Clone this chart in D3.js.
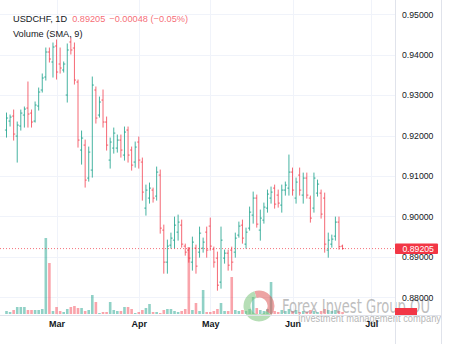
<!DOCTYPE html>
<html>
<head>
<meta charset="utf-8">
<script src="https://cdn.jsdelivr.net/npm/d3@7/dist/d3.min.js"></script>
<style>
  html, body { margin: 0; padding: 0; background: #fff; }
  svg { display: block; font-family: "Liberation Sans", Arial, sans-serif; }
</style>
</head>
<body>
<svg id="chart" width="450" height="344"></svg>
<script>
// USDCHF daily OHLC, 9 Feb – 21 Jun 2023
const opens  = [0.92137,0.92359,0.92483,0.91988,0.92236,0.92508,0.92681,0.92557,0.92359,0.92731,
                0.93127,0.93448,0.94067,0.93820,0.94216,0.93770,0.93622,0.93003,0.94315,0.94166,
                0.93325,0.91642,0.91765,0.90949,0.91147,0.93127,0.92508,0.92879,0.92335,0.91394,
                0.91691,0.91691,0.91889,0.91518,0.92137,0.91642,0.91345,0.91840,0.91345,0.90206,
                0.90454,0.90652,0.90503,0.91023,0.89662,0.88870,0.89290,0.89414,0.89612,0.89785,
                0.89266,0.89167,0.88870,0.89216,0.89117,0.89216,0.89612,0.89761,0.89191,0.88969,
                0.88375,0.88969,0.89092,0.89167,0.89117,0.89538,0.89785,0.89315,0.89711,0.90033,
                0.90454,0.89662,0.89909,0.90206,0.90454,0.90701,0.90528,0.90280,0.90652,0.90701,
                0.91097,0.90454,0.91023,0.90528,0.90949,0.90454,0.90206,0.90577,0.90577,0.90454,
                0.89167,0.89315,0.89513,0.89860,0.89266];
const highs  = [0.92557,0.92508,0.92632,0.92335,0.92632,0.92706,0.93325,0.92632,0.92830,0.93176,
                0.93523,0.94166,0.94166,0.94290,0.94364,0.94166,0.93820,0.94265,0.94414,0.94290,
                0.93374,0.92112,0.91889,0.91716,0.93448,0.93201,0.92953,0.93127,0.92458,0.91939,
                0.92186,0.92013,0.92013,0.92211,0.92211,0.91716,0.91840,0.91963,0.91444,0.90775,
                0.90825,0.90701,0.91221,0.91147,0.89785,0.89414,0.89587,0.89983,0.90033,0.89909,
                0.89315,0.89216,0.89488,0.89290,0.89736,0.89464,0.89736,0.89959,0.89241,0.89117,
                0.89736,0.89167,0.89167,0.89241,0.89587,0.89860,0.89909,0.89711,0.90231,0.90602,
                0.90528,0.90157,0.90330,0.90652,0.90726,0.90775,0.90652,0.90775,0.90850,0.91518,
                0.91196,0.90949,0.91196,0.91072,0.91072,0.90503,0.91072,0.90899,0.90652,0.90577,
                0.89587,0.89538,0.89983,0.89983,0.89290];
const lows   = [0.91963,0.92236,0.91889,0.91345,0.92137,0.92211,0.92211,0.92211,0.92335,0.92632,
                0.93077,0.93374,0.93820,0.93448,0.93399,0.93547,0.93572,0.92830,0.94018,0.93275,
                0.91716,0.91295,0.90726,0.90874,0.90973,0.92310,0.92458,0.92211,0.91642,0.91196,
                0.91567,0.91592,0.91468,0.91394,0.91345,0.91147,0.91221,0.91196,0.90404,0.90033,
                0.90330,0.90355,0.90404,0.89587,0.88597,0.88597,0.89216,0.89216,0.89414,0.89241,
                0.89043,0.88870,0.88672,0.88597,0.88993,0.89117,0.88993,0.89167,0.88746,0.88177,
                0.88226,0.88845,0.88672,0.88672,0.88993,0.89488,0.89340,0.89216,0.89662,0.89835,
                0.89736,0.89414,0.89835,0.90107,0.90330,0.90206,0.90231,0.90107,0.90528,0.90528,
                0.90528,0.90330,0.90528,0.90330,0.90454,0.89860,0.90107,0.90503,0.89959,0.89117,
                0.88993,0.89241,0.89414,0.89191,0.89191];
const closes = [0.92434,0.92458,0.92038,0.92260,0.92557,0.92656,0.92533,0.92335,0.92755,0.93077,
                0.93424,0.94067,0.93894,0.94191,0.93572,0.93671,0.93770,0.94117,0.94117,0.93374,
                0.91889,0.91939,0.90899,0.91592,0.93250,0.92434,0.92830,0.92335,0.91765,0.91840,
                0.92062,0.91889,0.91642,0.92087,0.91518,0.91270,0.91716,0.91394,0.90602,0.90652,
                0.90701,0.90454,0.91097,0.89711,0.88870,0.89266,0.89464,0.89785,0.89860,0.89315,
                0.89117,0.88969,0.89365,0.88771,0.89587,0.89365,0.89167,0.89266,0.88870,0.88300,
                0.89414,0.89092,0.88795,0.88870,0.89464,0.89761,0.89464,0.89612,0.90107,0.90454,
                0.89810,0.89959,0.90231,0.90553,0.90602,0.90305,0.90330,0.90652,0.90775,0.91097,
                0.90652,0.90850,0.90652,0.90949,0.90528,0.89959,0.90949,0.90800,0.90058,0.89315,
                0.89414,0.89439,0.89860,0.89253,0.89205];
// daily volume (thousands)
const volumes = [ 3, 2, 4, 7, 7, 7, 4, 4, 4, 4,
                  5,76,51, 3, 7, 3, 2, 5, 7, 8,
                  6, 6, 3, 4,19,12, 1, 2, 2,12,
                  4, 3, 3, 7, 7, 5, 1, 2, 4, 6,
                 10, 2, 2, 1, 4, 5, 5, 3, 2, 3,
                  5,67, 4,11, 3,24, 2, 2, 3, 5,
                 11, 3, 3,37, 4, 3, 4, 3, 5,17,
                  6, 4, 3, 5,32, 3, 2, 4, 3, 5,
                  3, 4, 2, 3, 2, 4, 3, 2, 3, 5,
                  4, 3, 4, 3, 2];

const priceTicks = [0.88, 0.89, 0.90, 0.91, 0.92, 0.93, 0.94, 0.95];
const symbolLabel = "USDCHF, 1D";
const lastLabel = "0.89205";
const changeLabel = "\u22120.00048 (\u22120.05%)";
const volumeLabel = "Volume (SMA, 9)";

// trading calendar: weekdays from the first session up to early July
const sessionDates = d3.timeDay.range(new Date(2023, 1, 9), new Date(2023, 6, 4))
  .filter(d => d.getDay() !== 0 && d.getDay() !== 6);
const bars = opens.map((o, i) => ({
  i, date: sessionDates[i], o, h: highs[i], l: lows[i], c: closes[i], v: volumes[i]
}));
const monthStarts = sessionDates
  .map((d, i) => ({ d, i }))
  .filter(({ d, i }) => i > 0 && d.getMonth() !== sessionDates[i - 1].getMonth());

const UP = "#089981", DOWN = "#f23645";
const UP_VOL = "rgba(8,153,129,0.45)", DOWN_VOL = "rgba(242,54,69,0.45)";

const plotRight = 395, plotBottom = 315, axisRight = 441.5;

const svg = d3.select("#chart");
const x = d3.scaleLinear().domain([0, sessionDates.length - 1]).range([6.5, 6.5 + 3.575 * (sessionDates.length - 1)]);
const y = d3.scaleLinear().domain([0.88, 0.95]).range([297.3, 14.3]);
const yVol = d3.scaleLinear().domain([0, 100]).range([314, 214]);

// grid
const grid = svg.append("g").attr("stroke", "#f0f3fa").attr("stroke-width", 1);
grid.selectAll("line.h").data(priceTicks).join("line")
  .attr("x1", 0).attr("x2", plotRight)
  .attr("y1", d => Math.round(y(d)) + 0.5).attr("y2", d => Math.round(y(d)) + 0.5);
grid.selectAll("line.v").data(monthStarts).join("line")
  .attr("x1", d => Math.round(x(d.i)) + 0.5).attr("x2", d => Math.round(x(d.i)) + 0.5)
  .attr("y1", 0).attr("y2", plotBottom);

// volume histogram
svg.append("g").selectAll("rect").data(bars).join("rect")
  .attr("x", d => x(d.i) - 1.3)
  .attr("width", 2.6)
  .attr("y", d => yVol(d.v))
  .attr("height", d => yVol(0) - yVol(d.v))
  .attr("fill", d => d.c >= d.o ? UP_VOL : DOWN_VOL);

// OHLC bars
const ohlc = svg.append("g").attr("stroke-width", 1).attr("fill", "none");
const bar = ohlc.selectAll("g").data(bars).join("g")
  .attr("stroke", d => d.c >= d.o ? UP : DOWN)
  .attr("stroke-opacity", 0.75);
bar.append("line")
  .attr("x1", d => x(d.i)).attr("x2", d => x(d.i))
  .attr("y1", d => y(d.h) - 0.5).attr("y2", d => y(d.l) + 0.5);
bar.append("line")
  .attr("x1", d => x(d.i) - 1.6).attr("x2", d => x(d.i))
  .attr("y1", d => y(d.o)).attr("y2", d => y(d.o));
bar.append("line")
  .attr("x1", d => x(d.i)).attr("x2", d => x(d.i) + 1.6)
  .attr("y1", d => y(d.c)).attr("y2", d => y(d.c));

// last price line
const last = bars[bars.length - 1];
svg.append("line")
  .attr("x1", 0).attr("x2", plotRight)
  .attr("y1", y(last.c)).attr("y2", y(last.c))
  .attr("stroke", DOWN).attr("stroke-opacity", 0.7)
  .attr("stroke-dasharray", "1 2");

// watermark
const wm = svg.append("g").attr("opacity", 0.55);
const ringC = [259, 306], ringR = 12;
const arc = d3.arc().innerRadius(ringR - 3.5).outerRadius(ringR + 3.5);
wm.append("path").attr("transform", `translate(${ringC})`)
  .attr("d", arc({ startAngle: -0.3, endAngle: 2.2 })).attr("fill", "#e05a5a");
wm.append("path").attr("transform", `translate(${ringC})`)
  .attr("d", arc({ startAngle: 2.2, endAngle: 5.98 })).attr("fill", "#7cc47c");
wm.append("text").attr("x", 282).attr("y", 313)
  .attr("font-family", "'DejaVu Sans Condensed', 'DejaVu Sans', sans-serif")
  .attr("font-size", 20).attr("fill", "#8a8a8a")
  .attr("textLength", 148).attr("lengthAdjust", "spacingAndGlyphs")
  .text("Forex Invest Group OU");
wm.append("text").attr("x", 298).attr("y", 322)
  .attr("font-size", 10.5).attr("fill", "#7a7a7a")
  .attr("textLength", 143).attr("lengthAdjust", "spacingAndGlyphs")
  .text("Investment management company");

// axes frame
const frame = svg.append("g").attr("stroke", "#e0e3eb").attr("stroke-width", 1);
frame.append("line").attr("x1", 0).attr("x2", axisRight).attr("y1", plotBottom + 0.5).attr("y2", plotBottom + 0.5);
frame.append("line").attr("x1", plotRight + 0.5).attr("x2", plotRight + 0.5).attr("y1", 0).attr("y2", 344);
frame.append("line").attr("x1", axisRight).attr("x2", axisRight).attr("y1", 0).attr("y2", 344);

// price axis
const yAxis = d3.axisRight(y).tickValues(priceTicks).tickFormat(d3.format(".5f")).tickSize(0).tickPadding(7);
svg.append("g").attr("transform", `translate(${plotRight},0)`).call(yAxis)
  .call(g => g.select(".domain").remove())
  .selectAll("text").attr("font-size", 8.7).attr("fill", "#131722")
  .attr("font-family", "'Liberation Sans', Arial, sans-serif");

// time axis
const xAxis = d3.axisBottom(x).tickValues(monthStarts.map(d => d.i))
  .tickFormat(i => d3.timeFormat("%b")(sessionDates[i])).tickSize(0).tickPadding(6);
svg.append("g").attr("transform", `translate(0,${plotBottom})`).call(xAxis)
  .call(g => g.select(".domain").remove())
  .selectAll("text").attr("font-size", 9).attr("font-weight", 600).attr("fill", "#131722")
  .attr("font-family", "'Liberation Sans', Arial, sans-serif");

// last price tag
svg.append("rect").attr("x", plotRight).attr("y", y(last.c) - 5).attr("width", 43).attr("height", 10.5)
  .attr("fill", DOWN).attr("rx", 1);
svg.append("text").attr("x", plotRight + 7.5).attr("y", y(last.c) + 3.2)
  .attr("font-size", 8.7).attr("fill", "#fff").text(d3.format(".5f")(last.c));

// last volume tag (clipped by the time axis)
svg.append("rect").attr("x", plotRight).attr("y", yVol(last.v) - 4).attr("width", 22).attr("height", 315 - (yVol(last.v) - 4))
  .attr("fill", DOWN);

// legend
const legend = svg.append("g").attr("font-size", 9.2);
const l1 = legend.append("text").attr("x", 13).attr("y", 22);
l1.append("tspan").attr("fill", "#131722").text(symbolLabel);
l1.append("tspan").attr("dx", 5).attr("fill", DOWN).attr("fill-opacity", 0.75).text(lastLabel);
l1.append("tspan").attr("dx", 4).attr("fill", DOWN).attr("fill-opacity", 0.75).text(changeLabel);
legend.append("text").attr("x", 13).attr("y", 37).attr("fill", "#131722").text(volumeLabel);
</script>
</body>
</html>
